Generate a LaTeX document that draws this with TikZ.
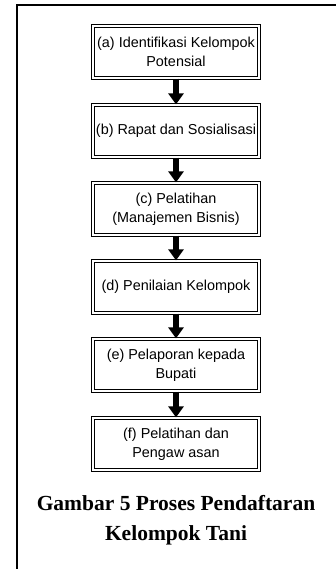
\documentclass[tikz,border=0pt]{standalone}
\usepackage{fontspec}
\setmainfont{Liberation Serif}
\newfontfamily\boxfont{Liberation Sans}
\usepackage{tikz}
\usetikzlibrary{arrows.meta,positioning}

\begin{document}
\begin{tikzpicture}[x=1pt,y=1pt,
  stepbox/.style={draw,double,line width=1.2pt,double distance=2.4pt,
    minimum width=166pt,minimum height=52pt,inner sep=2pt,align=center,
    font=\boxfont\fontsize{14.4}{19}\selectfont},
  flowarrow/.style={line width=5.5pt,-{Triangle[length=11pt,width=15pt]}}]
\useasboundingbox (0,0) rectangle (335,569);
\draw[line width=1.3pt] (17,-2) |- (337,564);
\foreach \i/\y/\lab in {1/517/{(a) Identifikasi Kelompok\\Potensial},
  2/438/{(b) Rapat dan Sosialisasi},
  3/360/{(c) Pelatihan\\(Manajemen Bisnis)},
  4/282/{(d) Penilaian Kelompok},
  5/204/{(e) Pelaporan kepada\\Bupati},
  6/125/{(f) Pelatihan dan\\Pengaw asan}}
  {\node[stepbox] (b\i) at (176,\y) {\lab};}
\draw[flowarrow] (b1)--(b2);
\draw[flowarrow] (b2)--(b3);
\draw[flowarrow] (b3)--(b4);
\draw[flowarrow] (b4)--(b5);
\draw[flowarrow] (b5)--(b6);
\node[align=center,font=\bfseries\fontsize{21.5}{30}\selectfont] (cap) at (176,49)
  {Gambar 5 Proses Pendaftaran\\Kelompok Tani};
\end{tikzpicture}
\end{document}
